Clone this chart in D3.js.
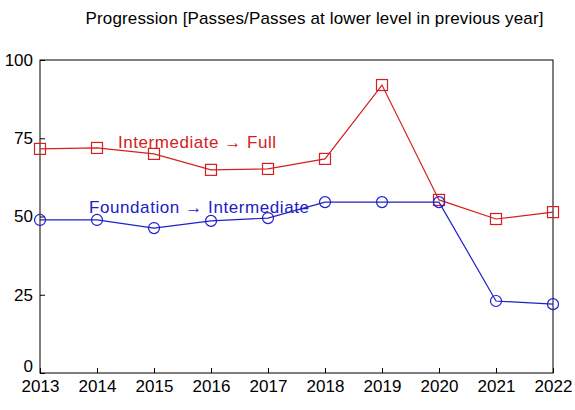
<!DOCTYPE html><html><head><script src="https://cdn.jsdelivr.net/npm/d3@7"></script>
<style>body{margin:0;background:#fff}text{font-family:Arial,"Liberation Sans",sans-serif}</style></head><body>
<script>
const years=[2013,2014,2015,2016,2017,2018,2019,2020,2021,2022];
const full=[71.6,71.9,70,64.9,65.2,68.4,92,55.3,49.2,51.4];
const inter=[48.9,48.9,46.3,48.6,49.5,54.6,54.6,54.6,23,22];
const yTicks=[0,25,50,75,100];
const W=575,H=410,m={l:40,r:22,t:60,b:37};
const svg=d3.select("body").append("svg").attr("width",W).attr("height",H);
const x=d3.scaleLinear().domain([2013,2022]).range([m.l,W-m.r]);
const y=d3.scaleLinear().domain([0,100]).range([H-m.b,m.t]);
svg.append("rect").attr("x",m.l).attr("y",m.t).attr("width",W-m.l-m.r).attr("height",H-m.t-m.b).attr("fill","none").attr("stroke","#000");
const ax=svg.append("g").attr("transform",`translate(0,${H-m.b})`).call(d3.axisBottom(x).tickValues(years).tickFormat(d3.format("d")).tickSize(-5).tickPadding(7));
const ay=svg.append("g").attr("transform",`translate(${m.l},0)`).call(d3.axisLeft(y).tickValues(yTicks).tickSize(-5).tickPadding(7));
[ax,ay].forEach(a=>{a.select(".domain").remove();a.selectAll("text").attr("font-size",17).attr("fill","#000");});
ay.selectAll(".tick text").filter(d=>d===0).attr("dy","-0.1em");
svg.append("text").attr("x",W/2+27).attr("y",24).attr("text-anchor","middle").attr("font-size",17).attr("textLength",458).text("Progression [Passes/Passes at lower level in previous year]");
const line=d3.line().x((d,i)=>x(years[i])).y(d=>y(d));
function series(data,c,sq){
 svg.append("path").attr("d",line(data)).attr("fill","none").attr("stroke",c).attr("stroke-width",1.2);
 data.forEach((d,i)=>{
  if(sq) svg.append("rect").attr("x",x(years[i])-5.5).attr("y",y(d)-5.5).attr("width",11).attr("height",11).attr("fill","none").attr("stroke",c).attr("stroke-width",1.2);
  else svg.append("circle").attr("cx",x(years[i])).attr("cy",y(d)).attr("r",5.5).attr("fill","none").attr("stroke",c).attr("stroke-width",1.2);
 });
}
series(full,"#d42020",true);
series(inter,"#2020c8",false);
svg.append("text").attr("x",118).attr("y",148).attr("font-size",17).attr("textLength",158).attr("fill","#d42020").text("Intermediate \u2192 Full");
svg.append("text").attr("x",89).attr("y",213).attr("font-size",17).attr("textLength",220).attr("fill","#2020c8").text("Foundation \u2192 Intermediate");
</script></body></html>
